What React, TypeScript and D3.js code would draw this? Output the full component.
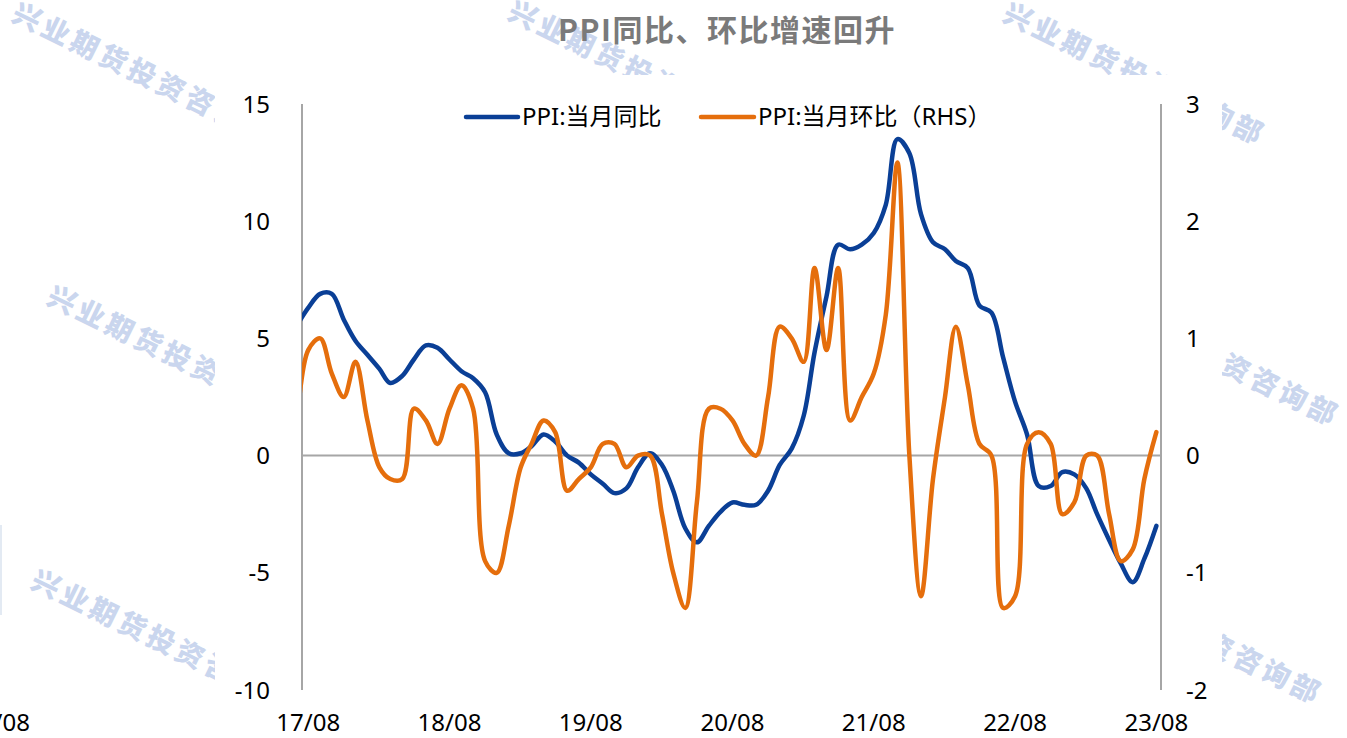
import React from "react";
import * as d3 from "d3";

// ---- Data (China PPI, monthly, 2017-07 .. 2023-08) ----
const startMonth = new Date(2017, 6, 1);
const endMonthExclusive = new Date(2023, 8, 1);

const ppiYoY: number[] = [
  // 2017 Jul-Dec
  5.5, 6.3, 6.9, 6.9, 5.8, 4.9,
  // 2018
  4.3, 3.7, 3.1, 3.4, 4.1, 4.7, 4.6, 4.1, 3.6, 3.3, 2.7, 0.9,
  // 2019
  0.1, 0.1, 0.4, 0.9, 0.6, 0.0, -0.3, -0.8, -1.2, -1.6, -1.4, -0.5,
  // 2020
  0.1, -0.4, -1.5, -3.1, -3.7, -3.0, -2.4, -2.0, -2.1, -2.1, -1.5, -0.4,
  // 2021
  0.3, 1.7, 4.4, 6.8, 9.0, 8.8, 9.0, 9.5, 10.7, 13.5, 12.9, 10.3,
  // 2022
  9.1, 8.8, 8.3, 8.0, 6.4, 6.1, 4.2, 2.3, 0.9, -1.3, -1.3, -0.7,
  // 2023 Jan-Aug
  -0.8, -1.4, -2.5, -3.6, -4.6, -5.4, -4.4, -3.0,
];

const ppiMoM: number[] = [
  // 2017 Jul-Dec
  0.2, 0.9, 1.0, 0.7, 0.5, 0.8,
  // 2018
  0.3, -0.1, -0.2, -0.2, 0.4, 0.3, 0.1, 0.4, 0.6, 0.4, -0.9, -1.0,
  // 2019
  -0.6, -0.1, 0.1, 0.3, 0.2, -0.3, -0.2, -0.1, 0.1, 0.1, -0.1, 0.0,
  // 2020
  0.0, -0.5, -1.0, -1.3, -0.4, 0.4, 0.4, 0.3, 0.1, 0.0, 0.5, 1.1,
  // 2021
  1.0, 0.8, 1.6, 0.9, 1.6, 0.3, 0.5, 0.7, 1.2, 2.5, 0.0, -1.2,
  // 2022
  -0.2, 0.5, 1.1, 0.6, 0.1, 0.0, -1.3, -1.2, 0.1, 0.2, 0.1, -0.5,
  // 2023 Jan-Aug
  -0.4, 0.0, 0.0, -0.5, -0.9, -0.8, -0.2, 0.2,
];

const leftTicks = [-10, -5, 0, 5, 10, 15];
const rightTicks = [-2, -1, 0, 1, 2, 3];
const xTickDates = [2017, 2018, 2019, 2020, 2021, 2022, 2023].map((y) => new Date(y, 7, 1));

const title = "PPI同比、环比增速回升";
const seriesNames = ["PPI:当月同比", "PPI:当月环比（RHS）"];
const watermarkText = "兴业期货投资咨询部";

// ---- Layout ----
const W = 1347;
const H = 738;
const plotL = 302;
const plotR = 1161;
const plotT = 104;
const plotB = 690;

const BLUE = "#0A3F96";
const ORANGE = "#E56E0C";
const AXIS = "#A6A6A6";
const FONT = "'Noto Sans', 'Noto Sans CJK SC', sans-serif";

const watermarkOrigins: [number, number][] = [
  [10, 20],
  [506, 18],
  [1001, 20],
  [45, 303],
  [1075, 301],
  [29, 587],
  [1058, 579],
];

export default function App() {
  const months = d3.timeMonth.range(startMonth, endMonthExclusive);

  const x = d3
    .scaleTime()
    .domain([new Date(2017, 6, 16), new Date(2023, 7, 13)])
    .range([plotL, plotR]);
  const yL = d3.scaleLinear().domain([-10, 15]).range([plotB, plotT]);
  const yR = d3.scaleLinear().domain([-2, 3]).range([plotB, plotT]);

  const lineL = d3
    .line<number>()
    .x((_, i) => x(months[i]))
    .y((d) => yL(d))
    .curve(d3.curveCatmullRom.alpha(0.5));
  const lineR = d3
    .line<number>()
    .x((_, i) => x(months[i]))
    .y((d) => yR(d))
    .curve(d3.curveCatmullRom.alpha(0.5));

  const fmt = d3.timeFormat("%y/%m");

  return (
    <svg
      width={W}
      height={H}
      viewBox={`0 0 ${W} ${H}`}
      style={{ position: "absolute", left: 0, top: 0, background: "#fff" }}
      fontFamily={FONT}
    >
      <defs>
        <clipPath id="plotClip">
          <rect x={plotL} y={0} width={plotR - plotL + 10} height={H} />
        </clipPath>
      </defs>
      <rect x={0} y={0} width={W} height={H} fill="#fff" />

      {/* watermarks */}
      {watermarkOrigins.map(([wx, wy], i) => (
        <text
          key={i}
          x={wx}
          y={wy}
          transform={`rotate(26 ${wx} ${wy})`}
          fontSize={28}
          fontWeight={900}
          letterSpacing={4}
          fill="#CAD6EE"
          fontFamily="'Noto Sans CJK SC', sans-serif"
        >
          {watermarkText}
        </text>
      ))}

      {/* artifacts from neighbouring chart at the left edge */}
      <rect x={0} y={525} width={2} height={90} fill="#E3EAF3" />
      <text x={30} y={731} fontSize={24} textAnchor="end" fill="#000">
        23/08
      </text>

      {/* chart cover */}
      <rect x={215} y={75} width={1222 - 215} height={H - 75} fill="#fff" />

      {/* title */}
      <text
        x={727}
        y={41}
        textAnchor="middle"
        fontSize={30}
        fontWeight="bold"
        letterSpacing={1.5}
        fill="#7A7A7A"
        fontFamily="'Noto Sans CJK SC', sans-serif"
      >
        {title}
      </text>

      {/* axes */}
      <line x1={plotL} x2={plotL} y1={plotT} y2={plotB} stroke={AXIS} strokeWidth={2} />
      <line x1={plotR} x2={plotR} y1={plotT} y2={plotB} stroke={AXIS} strokeWidth={2} />
      <line x1={plotL} x2={plotR} y1={yL(0)} y2={yL(0)} stroke={AXIS} strokeWidth={2} />

      {leftTicks.map((t) => (
        <text key={"l" + t} x={270} y={yL(t) + 8.5} fontSize={24} textAnchor="end" fill="#000">
          {t}
        </text>
      ))}
      {rightTicks.map((t) => (
        <text key={"r" + t} x={1186} y={yR(t) + 8.5} fontSize={24} textAnchor="start" fill="#000">
          {t}
        </text>
      ))}
      {xTickDates.map((d, i) => (
        <text key={"x" + i} x={x(d)} y={731} fontSize={24} textAnchor="middle" fill="#000">
          {fmt(d)}
        </text>
      ))}

      {/* series */}
      <g clipPath="url(#plotClip)">
        <path d={lineL(ppiYoY) || ""} fill="none" stroke={BLUE} strokeWidth={4.5} strokeLinejoin="round" strokeLinecap="round" />
        <path d={lineR(ppiMoM) || ""} fill="none" stroke={ORANGE} strokeWidth={4.5} strokeLinejoin="round" strokeLinecap="round" />
      </g>

      {/* legend */}
      <line x1={466} x2={518} y1={117} y2={117} stroke={BLUE} strokeWidth={4.5} strokeLinecap="round" />
      <text x={522} y={125} fontSize={24} fill="#000">
        {seriesNames[0]}
      </text>
      <line x1={701} x2={754} y1={117} y2={117} stroke={ORANGE} strokeWidth={4.5} strokeLinecap="round" />
      <text x={758} y={125} fontSize={24} fill="#000">
        {seriesNames[1]}
      </text>
    </svg>
  );
}
